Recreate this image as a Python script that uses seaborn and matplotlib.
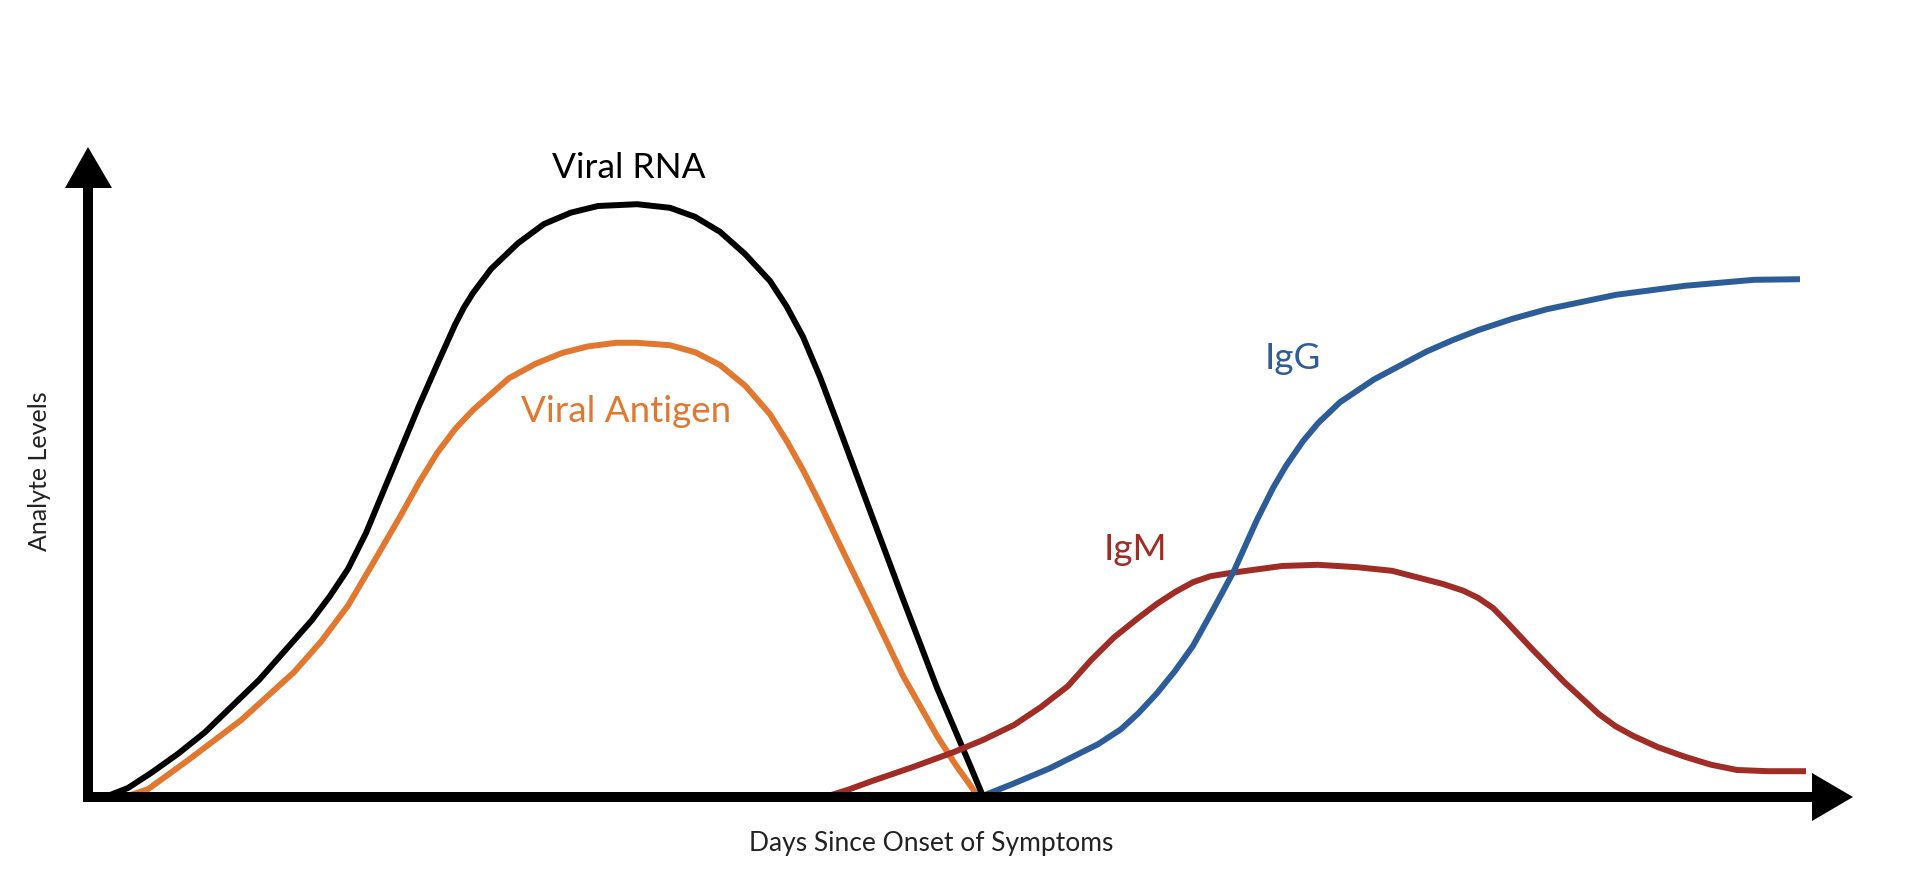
import matplotlib
matplotlib.use("Agg")
import pandas as pd
import matplotlib.pyplot as plt
from matplotlib.patches import Polygon
import seaborn as sns

# Curves: days since onset vs analyte level (0-100)
antigen_days = [0.74, 1.2, 1.98, 3.06, 4.12, 4.66, 5.2, 5.73, 6.26, 6.62, 6.98, 7.34, 7.7,
                8.42, 8.95, 9.48, 10.0, 10.56, 10.98, 11.64, 12.15, 12.64, 13.15, 13.64,
                13.97, 14.3, 14.64, 14.98, 15.64, 16.3, 16.98, 17.35, 17.7, 17.8]
antigen_level = [0, 1.3, 6, 12.8, 20.8, 25.9, 31.9, 39.4, 47, 52.4, 57.3, 61.3, 64.5,
                 69.8, 72.2, 74, 75.1, 75.7, 75.7, 75.3, 74.1, 72, 68.5, 63.8,
                 59.4, 54.5, 48.9, 43, 31.7, 20.2, 10.2, 5.4, 1.3, 0]

rna_days = [0.34, 0.8, 1.26, 1.8, 2.34, 3.42, 4.48, 4.84, 5.2, 5.56, 5.92, 6.62, 7.0,
            7.34, 7.52, 7.7, 8.06, 8.6, 9.12, 9.66, 10.2, 10.98, 11.64, 12.14, 12.64,
            13.14, 13.64, 13.97, 14.3, 14.64, 14.98, 15.64, 16.3, 16.98, 17.64, 17.88]
rna_level = [0, 1.5, 4, 7.2, 10.8, 19.5, 29.5, 33.5, 38.0, 44.0, 51.2, 65.2, 72.4,
             78.7, 81.6, 84, 88, 92.3, 95.5, 97.4, 98.5, 98.8, 98.2, 96.7, 94.2,
             90.5, 86, 81.8, 76.7, 70.0, 62.5, 47.7, 33, 18.2, 5.3, 0.5]

igm_days = [14.74, 15.2, 15.66, 16.5, 17.32, 17.9, 18.52, 19.06, 19.6, 20.06, 20.52, 21.0,
            21.38, 21.75, 22.1, 22.45, 22.82, 23.88, 24.6, 25.38, 26.08, 27.1, 27.5,
            27.8, 28.1, 28.36, 28.9, 29.52, 30.22, 30.55, 30.9, 31.4, 31.94, 32.45,
            32.98, 33.6, 34.36]
igm_level = [0, 1.2, 2.6, 5.0, 7.5, 9.5, 12, 15.0, 18.5, 22.8, 26.6, 29.8,
             32.2, 34.2, 35.8, 36.8, 37.3, 38.5, 38.7, 38.3, 37.7, 35.5, 34.4,
             33.2, 31.5, 29.3, 24.5, 19.2, 13.8, 11.8, 10.2, 8.3, 6.7, 5.4,
             4.5, 4.3, 4.3]

igg_days = [17.84, 18.5, 19.24, 20.2, 20.66, 21.0, 21.38, 21.74, 22.1, 22.5, 22.92, 23.38,
            23.7, 23.96, 24.3, 24.6, 25.04, 25.72, 26.76, 27.28, 27.8, 28.49, 29.18,
            30.56, 31.94, 33.32, 34.24]
igg_level = [0, 2.2, 4.8, 8.8, 11.3, 13.9, 17.3, 21.0, 25.2, 31.2, 37.7, 46.2,
             51.5, 55.2, 59.3, 62.3, 65.8, 69.6, 74.2, 76.1, 77.8, 79.7, 81.3,
             83.7, 85.2, 86.2, 86.3]

series = ["Viral Antigen", "Viral RNA", "IgM", "IgG"]
colors = ["#e2782f", "#000000", "#a02c26", "#2d5d98"]

df = pd.concat([
    pd.DataFrame({"day": antigen_days, "level": antigen_level, "series": "Viral Antigen"}),
    pd.DataFrame({"day": rna_days, "level": rna_level, "series": "Viral RNA"}),
    pd.DataFrame({"day": igm_days, "level": igm_level, "series": "IgM"}),
    pd.DataFrame({"day": igg_days, "level": igg_level, "series": "IgG"}),
], ignore_index=True)

sns.set_theme(style="white")
plt.rcParams["font.family"] = ["Lato", "DejaVu Sans"]

fig = plt.figure(figsize=(19.2, 8.77), dpi=100)
ax = fig.add_axes([0, 0, 1, 1])

# pixel helper: 50 px per day, 6 px per level unit, origin at (88, 797)
def px(x, y):
    return ((x - 88) / 50, (797 - y) / 6)

ax.set_xlim(px(0, 0)[0], px(1920, 0)[0])
ax.set_ylim(px(0, 877)[1], px(0, 0)[1])
ax.axis("off")

sns.lineplot(data=df, x="day", y="level", hue="series", hue_order=series,
             palette=colors, sort=False, estimator=None, legend=False,
             linewidth=4.3, ax=ax)
for line in ax.get_lines():
    line.set_solid_joinstyle("round")
    line.set_solid_capstyle("butt")

# axes with arrow heads
ax.plot(*zip(px(83, 797), px(1815, 797)), color="black", lw=7.2, solid_capstyle="butt")
ax.plot(*zip(px(88, 802), px(88, 186)), color="black", lw=7.2, solid_capstyle="butt")
ax.add_patch(Polygon([px(88, 147), px(65, 188), px(112, 188)], closed=True,
                     color="black", lw=0))
ax.add_patch(Polygon([px(1853, 797), px(1812, 773), px(1812, 821)], closed=True,
                     color="black", lw=0))

# curve labels
labels = [("Viral RNA", (629, 168), "black", 25.5),
          ("Viral Antigen", (626, 411), "#e2782f", 26.5),
          ("IgG", (1293, 358), "#2d5d98", 26.5),
          ("IgM", (1135, 550), "#a02c26", 26.5)]
for txt, pos, c, fs in labels:
    ax.text(*px(*pos), txt, color=c, fontsize=fs, ha="center", va="center")

ax.text(*px(931, 844), "Days Since Onset of Symptoms", fontsize=19,
        ha="center", va="center", color="#222222")
ax.text(*px(40, 471), "Analyte Levels", fontsize=18, rotation=90,
        ha="center", va="center", color="#222222")

fig.savefig("out.png", dpi=100, facecolor="white")
